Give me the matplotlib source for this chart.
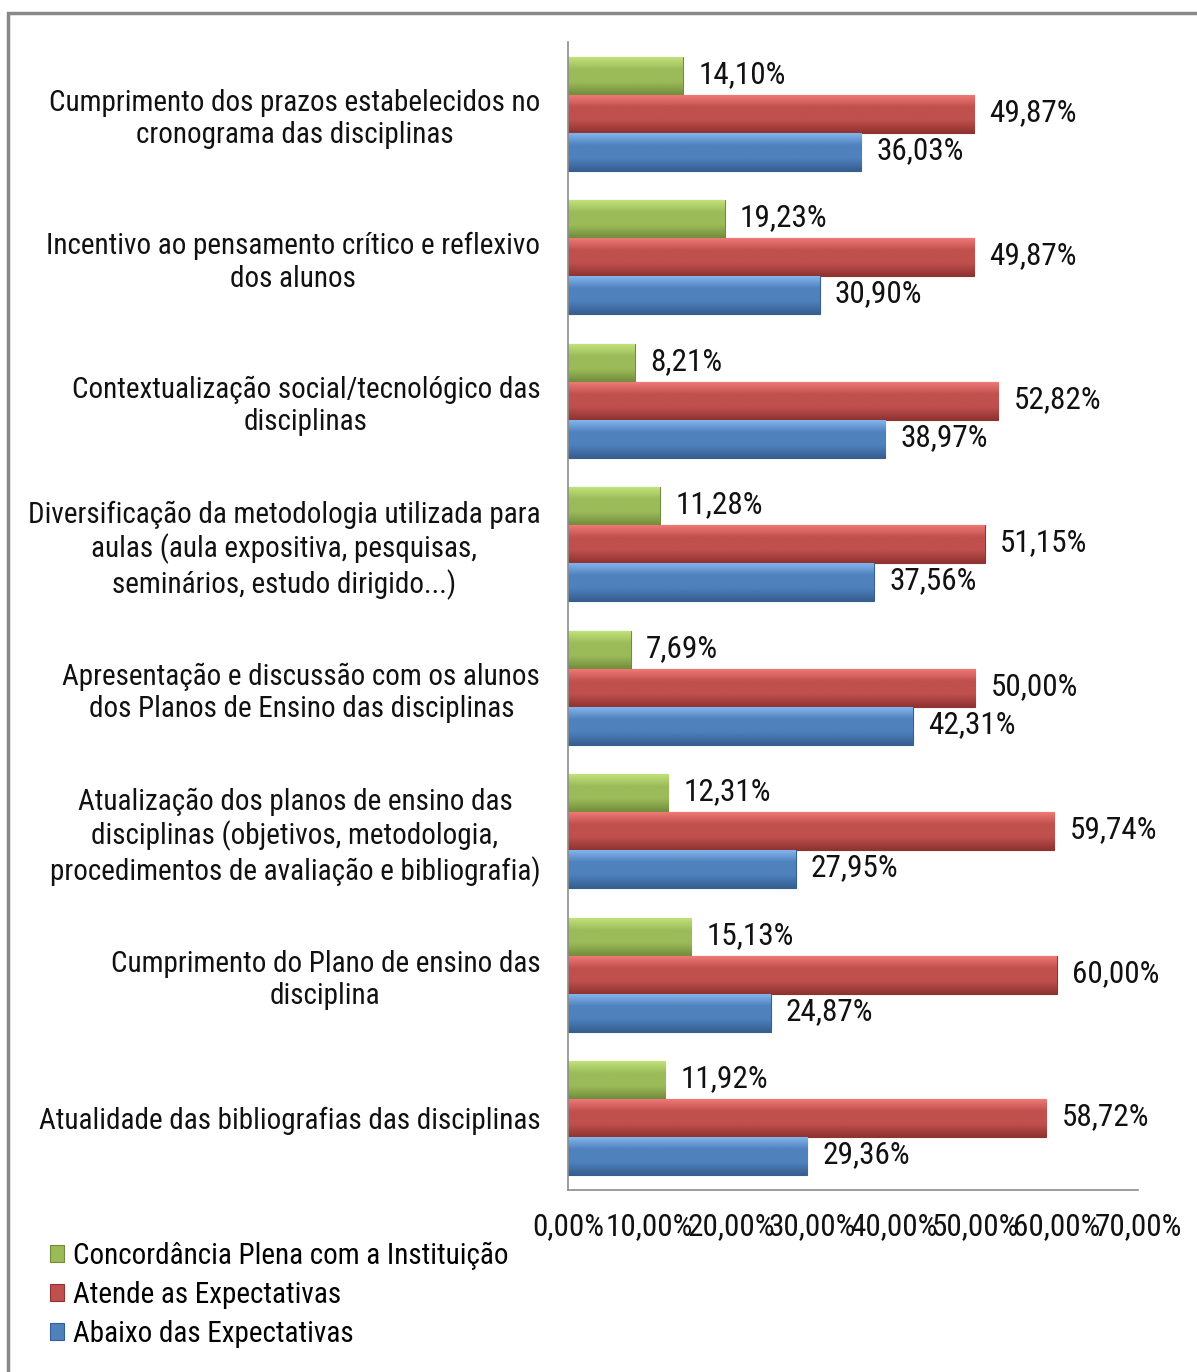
import numpy as np
import matplotlib
matplotlib.use("Agg")
import matplotlib.pyplot as plt
from matplotlib import font_manager
from matplotlib.patches import Rectangle
from matplotlib.ticker import FuncFormatter, MultipleLocator
from matplotlib.colors import LinearSegmentedColormap

# Dados (ordem de cima para baixo)
categorias = [
    "Cumprimento dos prazos estabelecidos no\ncronograma das disciplinas",
    "Incentivo ao pensamento crítico e reflexivo\ndos alunos",
    "Contextualização social/tecnológico das\ndisciplinas",
    "Diversificação da metodologia utilizada para\naulas (aula expositiva, pesquisas,\nseminários, estudo dirigido...)",
    "Apresentação e discussão com os alunos\ndos Planos de Ensino das disciplinas",
    "Atualização dos planos de ensino das\ndisciplinas (objetivos, metodologia,\nprocedimentos de avaliação e bibliografia)",
    "Cumprimento do Plano de ensino das\ndisciplina",
    "Atualidade das bibliografias das disciplinas",
]
concordancia = [14.10, 19.23, 8.21, 11.28, 7.69, 12.31, 15.13, 11.92]
atende = [49.87, 49.87, 52.82, 51.15, 50.00, 59.74, 60.00, 58.72]
abaixo = [36.03, 30.90, 38.97, 37.56, 42.31, 27.95, 24.87, 29.36]

series = ["Concordância Plena com a Instituição", "Atende as Expectativas", "Abaixo das Expectativas"]

# cores estilo Excel 2007 (claro, base, escuro)
cores = [
    ("#c4e57c", "#9bbb59", "#728c3c"),
    ("#f27c78", "#c0504d", "#8f3331"),
    ("#86b8f0", "#4f81bd", "#365f91"),
]

# procurar uma fonte estreita (parecida com Arial Narrow)
fontes = font_manager.fontManager.ttflist
nomes = {f.name for f in fontes}
estreita = None
for cand in ["Liberation Sans Narrow", "Arial Narrow", "Roboto Condensed"]:
    if cand in nomes:
        estreita = cand
        break
stretch = "normal"
fs = 21      # textos das categorias e legenda
fs_num = 22.5  # números (rótulos e eixo x)
if estreita is None:
    if any(f.name == "DejaVu Sans" and f.stretch == "condensed" for f in fontes):
        estreita = "DejaVu Sans"
        stretch = "condensed"
        fs, fs_num = 18, 19
    else:
        estreita = "Liberation Sans"
        fs, fs_num = 19, 19

plt.rcParams["font.family"] = [estreita, "DejaVu Sans"]
plt.rcParams["font.stretch"] = stretch

fig = plt.figure(figsize=(11.97, 13.72), dpi=100)
ax = fig.add_axes([568 / 1197, 1 - 1190 / 1372, 570 / 1197, 1148 / 1372])

n = len(categorias)
y = np.arange(n)
h = 0.265
valores = [concordancia, atende, abaixo]
offsets = [-h, 0, h]

for vals, off, (c_claro, c_base, c_escuro), nome in zip(valores, offsets, cores, series):
    bars = ax.barh(y + off, vals, height=h, color=c_base, label=nome,
                   edgecolor=c_escuro, linewidth=0.8, zorder=2)
    cmap = LinearSegmentedColormap.from_list("g", [c_claro, c_base, c_base, c_escuro])
    grad = np.linspace(0, 1, 64).reshape(-1, 1)
    for b in bars:
        x0, y0 = b.get_x(), b.get_y()
        im = ax.imshow(grad, cmap=cmap, aspect="auto", zorder=2.5,
                       extent=(x0, x0 + b.get_width(), y0 + b.get_height(), y0),
                       interpolation="bicubic")
        im.set_clip_path(b)
    for b, v in zip(bars, vals):
        ax.annotate(f"{v:.2f}%".replace(".", ","),
                    xy=(b.get_width(), b.get_y() + b.get_height() / 2),
                    xytext=(11, 1), textcoords="offset points",
                    va="center", ha="left", fontsize=fs_num, color="#111111")

ax.set_xlim(0, 70)
ax.set_ylim(n - 0.5, -0.5)
ax.set_yticks(y)
ax.set_yticklabels(categorias, fontsize=fs, multialignment="center",
                   color="#111111", linespacing=1.2)
ax.xaxis.set_major_locator(MultipleLocator(10))
ax.xaxis.set_major_formatter(FuncFormatter(lambda v, p: f"{v:.2f}%".replace(".", ",")))
ax.tick_params(axis="x", length=0, pad=16, labelsize=fs_num, labelcolor="#111111")
ax.tick_params(axis="y", length=0, pad=20)

for s in ["top", "right"]:
    ax.spines[s].set_visible(False)
for s in ["left", "bottom"]:
    ax.spines[s].set_color("#8c8c8c")
    ax.spines[s].set_linewidth(1.2)

handles, labels = ax.get_legend_handles_labels()
leg = fig.legend(handles, labels, loc="upper left",
                 bbox_to_anchor=(38 / 1197, 1 - 1230 / 1372),
                 frameon=False, fontsize=fs, handlelength=0.5, handleheight=0.5,
                 handletextpad=0.3, labelspacing=0.38, borderaxespad=0)

# moldura cinza do gráfico
fig.patches.append(Rectangle((8 / 1197, -0.1), 1.2, 1 - 13 / 1372 + 0.1,
                             transform=fig.transFigure, fill=False,
                             edgecolor="#888888", linewidth=2.5))

fig.savefig("out.png", dpi=100)
